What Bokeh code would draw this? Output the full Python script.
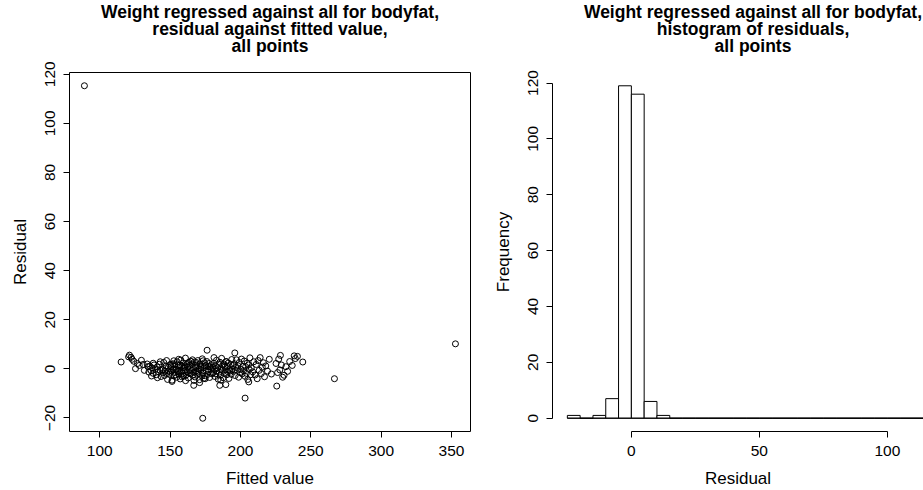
from bokeh.plotting import figure
from bokeh.models import Range1d, FixedTicker, GlobalInlineStyleSheet
from bokeh.layouts import row, column
from bokeh.core.properties import value
from bokeh.embed import file_html
from bokeh.resources import INLINE

# ---------------- data: residual vs fitted (scatter) ----------------
fitted_values = [
    # outliers / tails
    89.1, 352.8, 173.2, 203.3, 266.8,
    121.1, 176.3, 196.0, 228.4, 238.2, 240.5,
    151.4, 166.8, 171.0, 185.3, 189.6, 205.9, 225.8,
    # 115-135
    115.2, 120.5, 122.3, 123.0, 124.2, 125.4, 126.8, 128.1, 129.6, 130.9, 131.7, 133.7, 134.2, 134.9,
    # 135-150
    135.6, 136.5, 137.2, 137.9, 138.6, 139.4, 140.1, 140.8, 141.5, 142.3, 142.9, 143.6, 144.2, 144.9, 145.5,
    146.0, 146.6, 147.1, 147.7, 148.2, 148.8, 149.3, 149.8, 138.0, 141.0, 143.0, 145.0, 147.5, 136.8, 149.0,
    # 150-165
    150.2, 150.7, 151.4, 151.9, 152.3, 152.8, 153.2, 153.7, 154.1, 154.6, 155.0, 155.4, 155.9, 156.3, 156.8,
    157.2, 157.6, 158.1, 158.5, 158.9, 159.4, 159.8, 160.2, 160.6, 160.9, 161.3, 161.7, 162.1, 162.5, 162.9,
    163.3, 163.7, 164.1, 164.5, 164.8, 150.5, 151.1, 152.6, 153.9, 155.7, 157.0, 158.3, 159.6, 161.0, 162.3,
    163.9, 154.4, 156.1, 159.1, 160.4,
    # 165-180
    165.3, 165.7, 166.1, 166.5, 166.9, 167.3, 167.7, 168.1, 168.5, 168.9, 169.3, 169.7, 170.1, 170.5, 170.9,
    171.3, 171.7, 172.1, 172.5, 172.9, 173.3, 173.7, 174.1, 174.5, 174.9, 175.3, 175.7, 176.1, 176.5, 176.9,
    177.3, 177.7, 178.1, 178.5, 178.9, 179.3, 179.7, 165.9, 167.0, 168.7, 170.3, 171.9, 173.5, 175.1, 177.0,
    # 180-195
    180.2, 180.6, 181.0, 181.4, 181.8, 182.2, 182.6, 183.0, 183.4, 183.8, 184.2, 184.6, 185.0, 185.4, 185.8,
    186.2, 186.6, 187.0, 187.4, 187.8, 188.2, 188.6, 189.0, 189.4, 189.8, 190.2, 190.6, 191.0, 191.4, 191.8,
    192.2, 192.6, 193.0, 193.4, 193.8, 194.2, 194.6, 181.2, 186.0, 190.0,
    # 195-210
    195.2, 195.7, 196.2, 196.7, 197.2, 197.7, 198.2, 198.7, 199.2, 199.7, 200.2, 200.7, 201.2, 201.7, 202.2,
    202.7, 203.2, 203.7, 204.2, 204.7, 205.2, 205.7, 206.2, 206.7, 207.2, 207.7, 208.7, 209.5,
    # 210-225
    210.4, 211.2, 211.9, 212.6, 213.3, 214.0, 214.8, 215.5, 216.3, 217.1, 218.0, 219.2, 220.5, 222.0,
    # 225-245
    225.3, 226.4, 227.2, 228.0, 229.1, 230.0, 231.0, 232.3, 233.5, 235.0, 236.8, 239.0, 244.3,
]

residuals = [
    115.3, 10.2, -20.1, -11.9, -4.0,
    5.6, 7.6, 6.5, 5.5, 5.3, 5.1,
    -5.1, -6.7, -5.6, -6.7, -6.4, -5.3, -7.0,
    2.8, 4.9, 4.7, 3.9, 3.1, 0.1, 2.2, 1.4, 3.5, 1.8, -0.6, 2.0, 0.9, -1.3,
    1.1, -0.7, 0.4, -1.8, 1.6, -0.2, -2.4, 0.8, -1.1, 1.9, -0.5, -3.1, -0.3, -1.6, 2.6,
    -2.7, -0.9, 1.2, -1.9, -4.3, 0.6, -2.2, 1.5, 2.3, -3.6, 2.9, -0.3, 3.4, -2.9, -0.8,
    -1.3, 0.9, -4.6, 2.1, -0.4, -2.8, 1.7, -1.5, -0.2, -3.4, 2.9, -0.7, 1.3, -2.1, 0.5,
    -4.1, 3.6, -0.9, 1.0, -1.8, 2.4, -3.0, 0.3, -0.6, 4.4, -2.5, 1.8, -1.2, 0.7, -3.7,
    2.7, -0.3, 1.4, -2.0, 3.1, 1.9, -0.8, 3.3, -2.4, -1.1, 1.6, -3.2, 0.6, -4.8, 2.2,
    -1.6, -0.1, 3.9, -2.7, 1.2,
    -0.5, 1.9, -2.6, 0.4, -1.4, 2.8, -3.3, 0.8, -0.9, 1.5, -2.2, 3.4, -1.0, -0.1, -4.4,
    2.0, -0.4, 1.1, -2.9, 4.1, -1.7, 0.6, -3.8, 2.5, -4.0, 1.3, -0.7, 3.0, -2.3, -0.2,
    -1.2, 2.2, -3.5, 0.9, -0.2, 1.7, -2.0, 3.7, -4.7, 2.6, -1.9, 0.5, 3.3, -2.8, 1.0,
    0.7, -1.6, 2.3, -0.3, -3.1, 1.2, -2.0, 3.5, -0.8, 0.4, -4.2, 1.9, -1.3, 2.7, -2.6,
    -0.1, 4.3, -0.6, 1.5, -3.6, 2.0, -1.9, 0.8, -0.4, 3.0, -2.4, 1.1, -1.1, 2.4, -3.9,
    -0.3, -0.9, 1.8, -2.2, 3.8, -0.2, 1.4, 4.6, -4.6, 2.9,
    -1.0, 2.1, -2.7, 0.6, 3.7, -0.5, 1.3, -3.4, 2.6, -1.5, -0.2, 4.0, -2.0, 1.0, -0.7,
    3.2, -3.0, 0.9, -1.8, 2.3, -4.3, 1.6, -0.2, 4.5, -2.4, 0.4, -1.2, 2.9,
    -2.5, 1.8, -4.0, 3.4, -0.6, 4.6, -1.9, 0.7, 2.5, -3.2, 1.2, -0.9, 3.9, -2.1,
    2.2, -1.5, 4.0, -0.4, 1.6, -3.4, -2.6, 0.9, -1.0, 3.0, 1.4, 4.2, 2.8,
]

x_ticks_left = [100, 150, 200, 250, 300, 350]
y_ticks_left = [-20, 0, 20, 40, 60, 80, 100, 120]

# ---------------- data: histogram of residuals ----------------
hist_breaks = [-25, -20, -15, -10, -5, 0, 5, 10, 15, 20, 25, 30, 35, 40, 45, 50,
               55, 60, 65, 70, 75, 80, 85, 90, 95, 100, 105, 110, 115, 120]
hist_counts = [1, 0, 1, 7, 119, 116, 6, 1, 0, 0, 0, 0, 0, 0, 0,
               0, 0, 0, 0, 0, 0, 0, 0, 0, 0, 0, 0, 0, 1]
x_ticks_right = [0, 50, 100]
y_ticks_right = [0, 20, 40, 60, 80, 100, 120]

title_left = ["Weight regressed against all for bodyfat,",
              "residual against fitted value,",
              "all points"]
title_right = ["Weight regressed against all for bodyfat,",
               "histogram of residuals,",
               "all points"]

FONT = "Liberation Sans"

# layout (pixels)
TITLE_H = 57
MAIN_H = 490 - TITLE_H
LEFT_W, RIGHT_W = 486, 437
L_BORDER_L, L_BORDER_R = 69, 16
R_BORDER_L, R_BORDER_R = 66, 0
TOP_B, BOT_B = 15, 59
TITLE_BASELINES = [46, 29, 12]   # from bottom of the title strip


def style_axis(ax, ticks, label_standoff, title_standoff):
    ax.ticker = FixedTicker(ticks=ticks)
    ax.major_tick_line_color = "black"
    ax.major_tick_line_width = 1
    ax.major_tick_out = 6
    ax.major_tick_in = 0
    ax.minor_tick_line_color = None
    ax.major_label_text_font = FONT
    ax.major_label_text_font_size = "15.5px"
    ax.major_label_text_color = "black"
    ax.axis_label_text_font = FONT
    ax.axis_label_text_font_size = "17px"
    ax.axis_label_text_font_style = "normal"
    ax.axis_label_text_color = "black"
    ax.major_label_standoff = label_standoff
    ax.axis_label_standoff = title_standoff


def title_strip(width, bl, br, x_range, xcenter, lines):
    t = figure(width=width, height=TITLE_H, x_range=x_range, y_range=Range1d(0, TITLE_H),
               min_border_left=bl, min_border_right=br, min_border_top=0, min_border_bottom=0,
               x_axis_type=None, y_axis_type=None, output_backend="svg", toolbar_location=None,
               background_fill_color="white", border_fill_color="white")
    t.outline_line_color = None
    t.text(x=[xcenter] * len(lines), y=TITLE_BASELINES, text=lines,
           text_align="center", text_baseline="alphabetic",
           text_font=value(FONT), text_font_style="bold", text_font_size="17.5px",
           text_color="black")
    return t


# ---------------- left figure ----------------
p1 = figure(width=LEFT_W, height=MAIN_H, output_backend="svg", toolbar_location=None,
            x_range=Range1d(78.5, 363.5), y_range=Range1d(-25.5, 120.7),
            min_border_left=L_BORDER_L, min_border_right=L_BORDER_R,
            min_border_top=TOP_B, min_border_bottom=BOT_B,
            background_fill_color="white", border_fill_color="white")
p1.grid.visible = False
p1.outline_line_color = "black"
p1.outline_line_width = 1
p1.scatter(fitted_values, residuals, marker="circle", size=6, fill_color=None,
           line_color="black", line_width=1)
style_axis(p1.xaxis[0], x_ticks_left, 8, 10)
style_axis(p1.yaxis[0], y_ticks_left, 8, 13)
p1.xaxis.axis_line_color = None
p1.yaxis.axis_line_color = None
p1.xaxis.axis_label = "Fitted value"
p1.yaxis.axis_label = "Residual"
p1.yaxis.major_label_orientation = "vertical"
t1 = title_strip(LEFT_W, L_BORDER_L, L_BORDER_R, p1.x_range,
                 (p1.x_range.start + p1.x_range.end) / 2, title_left)

# ---------------- right figure ----------------
hist_xlim_full = (-30.8, 125.8)   # full (uncropped) panel range
p2 = figure(width=RIGHT_W, height=MAIN_H, output_backend="svg", toolbar_location=None,
            x_range=Range1d(-30.8, 114.1), y_range=Range1d(-4.76, 123.76),
            min_border_left=R_BORDER_L, min_border_right=R_BORDER_R,
            min_border_top=TOP_B, min_border_bottom=BOT_B,
            background_fill_color="white", border_fill_color="white")
p2.grid.visible = False
p2.outline_line_color = None
p2.quad(left=hist_breaks[:-1], right=hist_breaks[1:], top=hist_counts, bottom=0,
        fill_color="white", line_color="black", line_width=1)
p2.line(x=[hist_breaks[0], hist_breaks[-1]], y=[0, 0], line_color="black", line_width=1)
style_axis(p2.xaxis[0], x_ticks_right, 8, 10)
style_axis(p2.yaxis[0], y_ticks_right, 8, 13)
p2.xaxis.axis_line_color = "black"
p2.yaxis.axis_line_color = "black"
p2.xaxis.bounds = (0, 100)
p2.yaxis.bounds = (0, 120)
p2.xaxis.axis_label = "Residual"
p2.yaxis.axis_label = "Frequency"
p2.yaxis.major_label_orientation = "vertical"
t2 = title_strip(RIGHT_W, R_BORDER_L, R_BORDER_R, p2.x_range,
                 (hist_xlim_full[0] + hist_xlim_full[1]) / 2, title_right)

layout = row(column(t1, p1), column(t2, p2),
             stylesheets=[GlobalInlineStyleSheet(css="html, body { margin: 0; padding: 0; }")])

open("out.html", "w").write(file_html(layout, INLINE))
